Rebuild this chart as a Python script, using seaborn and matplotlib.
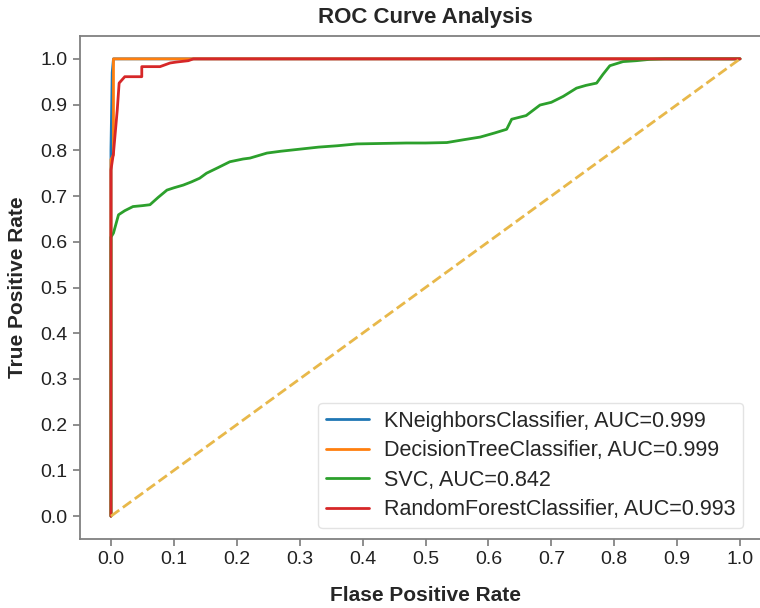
import numpy as np
import pandas as pd
import matplotlib
matplotlib.use('Agg')
import matplotlib.pyplot as plt
import seaborn as sns

models = ['KNeighborsClassifier', 'DecisionTreeClassifier', 'SVC', 'RandomForestClassifier']
aucs = [0.999, 0.999, 0.842, 0.993]
colors = ['#1f77b4', '#ff7f0e', '#2ca02c', '#d62728']

knn_fpr = [0.0, 0.0, 0.002, 0.004, 1.0]
knn_tpr = [0.0, 0.80, 0.97, 1.0, 1.0]

dt_fpr = [0.0, 0.0, 0.004, 0.004, 1.0]
dt_tpr = [0.0, 0.78, 0.79, 1.0, 1.0]

svc_fpr = [0.0, 0.0, 0.004, 0.012, 0.022, 0.035, 0.05, 0.062, 0.075, 0.089, 0.10, 0.115,
           0.128, 0.141, 0.152, 0.17, 0.189, 0.21, 0.221, 0.248, 0.27, 0.29, 0.33, 0.36,
           0.391, 0.43, 0.47, 0.50, 0.534, 0.56, 0.587, 0.61, 0.629, 0.637, 0.66, 0.682,
           0.70, 0.719, 0.740, 0.755, 0.772, 0.782, 0.793, 0.814, 0.835, 0.857, 0.88,
           0.92, 1.0]
svc_tpr = [0.0, 0.61, 0.619, 0.659, 0.668, 0.677, 0.679, 0.681, 0.697, 0.713, 0.718, 0.724,
           0.731, 0.739, 0.750, 0.762, 0.775, 0.781, 0.783, 0.794, 0.798, 0.801, 0.807, 0.810,
           0.814, 0.815, 0.816, 0.816, 0.817, 0.823, 0.829, 0.838, 0.846, 0.868, 0.876, 0.899,
           0.905, 0.918, 0.936, 0.942, 0.947, 0.966, 0.985, 0.994, 0.996, 0.999, 1.0,
           1.0, 1.0]

rf_fpr = [0.0, 0.0, 0.004, 0.010, 0.013, 0.022, 0.035, 0.049, 0.049, 0.078, 0.094,
          0.104, 0.123, 0.131, 0.40, 1.0]
rf_tpr = [0.0, 0.757, 0.794, 0.888, 0.947, 0.961, 0.961, 0.961, 0.983, 0.983, 0.991,
          0.993, 0.996, 1.0, 1.0, 1.0]

diag = [0.0, 1.0]

frames = []
for name, auc, fpr, tpr in zip(models, aucs,
                               [knn_fpr, dt_fpr, svc_fpr, rf_fpr],
                               [knn_tpr, dt_tpr, svc_tpr, rf_tpr]):
    frames.append(pd.DataFrame({'fpr': fpr, 'tpr': tpr,
                                'model': f'{name}, AUC={auc:.3f}'}))
roc = pd.concat(frames, ignore_index=True)

sns.set_theme(style='ticks', rc={'axes.edgecolor': '0.5', 'xtick.color': '0.5',
                                 'ytick.color': '0.5', 'axes.linewidth': 1.3})
plt.rcParams['font.family'] = ['Liberation Sans', 'DejaVu Sans']

fig = plt.figure(figsize=(7.6, 6.08), dpi=100)
ax = fig.add_axes([79.5 / 760, 69 / 608, 692 / 760, 503 / 608])

sns.lineplot(data=roc, x='fpr', y='tpr', hue='model', palette=colors,
             sort=False, estimator=None, linewidth=2, ax=ax)
ax.plot(diag, diag, linestyle='--', color='#e8b84a', linewidth=2)

ax.set_xlim(-0.05, 1.05)
ax.set_ylim(-0.05, 1.05)
ax.set_xticks(np.arange(0, 1.01, 0.1))
ax.set_yticks(np.arange(0, 1.01, 0.1))
ax.tick_params(labelsize=14, labelcolor='#222222', length=5)

ax.set_title('ROC Curve Analysis', fontsize=16, fontweight='bold', pad=9)
ax.set_xlabel('Flase Positive Rate', fontsize=15, fontweight='bold', labelpad=13)
ax.set_ylabel('True Positive Rate', fontsize=15, fontweight='bold', labelpad=10)

ax.legend(loc='lower right', bbox_to_anchor=(0.959, 0.022), borderaxespad=0,
          fontsize=15.5, frameon=True, edgecolor='#dddddd', handlelength=2.0,
          labelspacing=0.4, borderpad=0.35, handletextpad=0.7)

fig.savefig('out.png', dpi=100)
